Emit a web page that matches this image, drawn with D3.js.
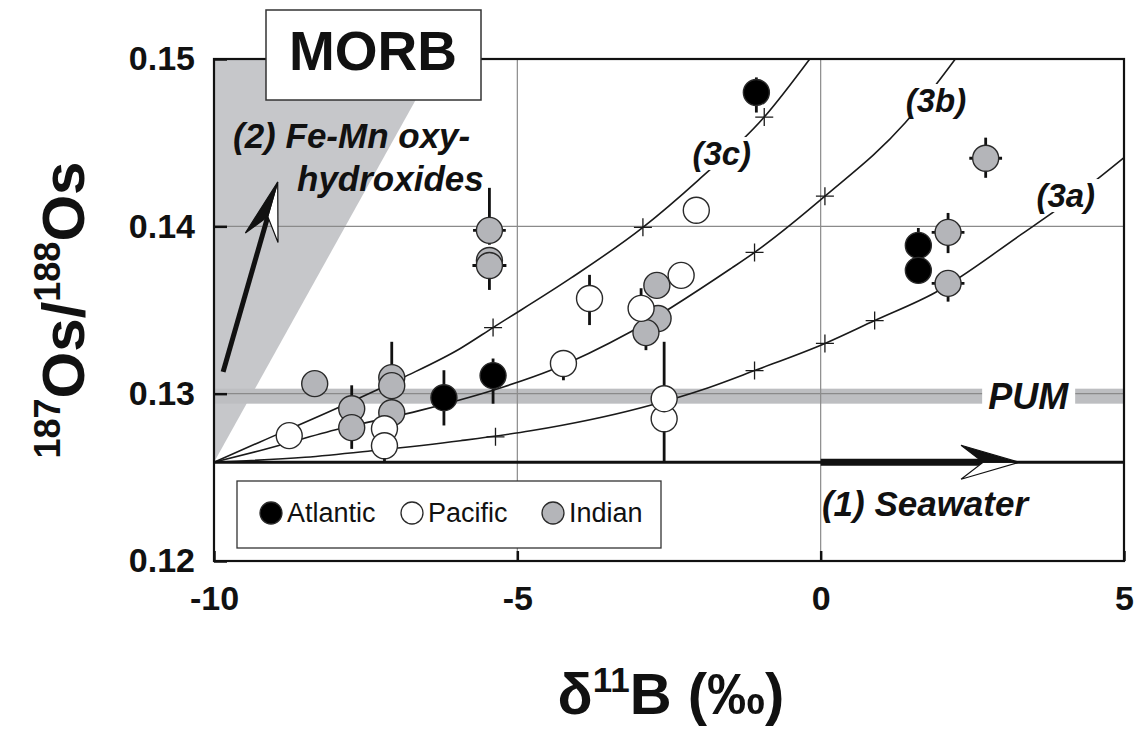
<!DOCTYPE html>
<html>
<head>
<meta charset="utf-8">
<script src="https://cdn.jsdelivr.net/npm/d3@7"></script>
<style>
  body { margin: 0; background: #fff; }
  svg { display: block; font-family: "Liberation Sans", Arial, sans-serif; }
</style>
</head>
<body>
<div id="chart"></div>
<script>
// --- values ---
// points: delta11B, 187Os/188Os, vertical error range (lo/hi), horizontal half error (xe)
const atlantic = [
  { x: -1.06, y: 0.1480, lo: 0.1468, hi: 0.1489 },
  { x: 1.61, y: 0.13886, lo: 0.1378, hi: 0.1399 },
  { x: 1.61, y: 0.13737 },
  { x: -5.40, y: 0.13108, lo: 0.1294, hi: 0.1321 },
  { x: -6.21, y: 0.12976, lo: 0.1281, hi: 0.1314 }
]
const pacific = [
  { x: -2.05, y: 0.14096 },
  { x: -3.81, y: 0.13569, lo: 0.1341, hi: 0.1371 },
  { x: -2.30, y: 0.13707 },
  { x: -2.96, y: 0.1351, lo: 0.1340, hi: 0.1363 },
  { x: -4.24, y: 0.1318, lo: 0.1308, hi: 0.1326 },
  { x: -2.58, y: 0.1285, lo: 0.1259, hi: 0.1331 },
  { x: -2.58, y: 0.1297 },
  { x: -8.76, y: 0.12749 },
  { x: -7.19, y: 0.1279 },
  { x: -7.19, y: 0.12689, lo: 0.1259, hi: 0.1280 }
]
const indian = [
  { x: 2.72, y: 0.14407, lo: 0.1429, hi: 0.1453, xe: 0.27 },
  { x: 2.10, y: 0.13964, lo: 0.1384, hi: 0.1408, xe: 0.27 },
  { x: 2.10, y: 0.13659, lo: 0.1355, hi: 0.1370, xe: 0.27 },
  { x: -5.46, y: 0.13976, lo: 0.1389, hi: 0.1423, xe: 0.27 },
  { x: -5.46, y: 0.13796 },
  { x: -5.46, y: 0.13766, lo: 0.1362, hi: 0.1380, xe: 0.28 },
  { x: -2.70, y: 0.13647 },
  { x: -2.68, y: 0.13449 },
  { x: -2.88, y: 0.13365, lo: 0.1326, hi: 0.1345 },
  { x: -8.34, y: 0.1306 },
  { x: -7.73, y: 0.1291, lo: 0.1285, hi: 0.1305 },
  { x: -7.73, y: 0.12797, lo: 0.1267, hi: 0.1285 },
  { x: -7.07, y: 0.13096, lo: 0.1295, hi: 0.1331 },
  { x: -7.07, y: 0.13048 },
  { x: -7.07, y: 0.12886 }
]

// mixing curves (points along each line) and their + marks
const curve3a = [[-10,0.1259],[-8.5,0.1262],[-7.4,0.12659],[-5.94,0.12719],[-4.78,0.12778],[-2.96,0.12916],[-1.85,0.13036],[-1.09,0.13138],[0.07,0.133],[0.89,0.13437],[1.89,0.13605],[3.3,0.1395],[4.2,0.1418],[5,0.1441]]
const curve3b = [[-10,0.1259],[-9.25,0.12659],[-7.93,0.1279],[-6.6,0.1290],[-5.23,0.1304],[-4.45,0.1314],[-3.13,0.1337],[-1.47,0.1375],[-1.09,0.13844],[0.07,0.1418],[1.39,0.14617],[2.22,0.15]]
const curve3c = [[-10,0.1259],[-9.25,0.1271],[-7.93,0.1292],[-6.89,0.13095],[-5.94,0.1327],[-5.4,0.13395],[-4.12,0.1369],[-2.93,0.13994],[-2.02,0.14275],[-0.93,0.14653],[-0.18,0.15]]
const marks3a = [[-5.36,0.12742],[-1.09,0.13138],[0.07,0.133],[0.89,0.13437]]
const marks3b = [[-1.09,0.13844],[0.07,0.1418]]
const marks3c = [[-5.4,0.13395],[-2.93,0.13994],[-0.93,0.14653]]

const seawaterOs = 0.1259
const pumOs = 0.12985
const feMnField = [[-10,0.1259],[-10,0.15],[-6.3,0.15]]

const xTicks = [-10, -5, 0, 5]
const yTicks = [0.12, 0.13, 0.14, 0.15]
const legendItems = ["Atlantic", "Pacific", "Indian"]
const fills = { Atlantic: "#000", Pacific: "#fff", Indian: "#b4b5b9" }

// --- layout ---
const W = 1146, H = 733
let x = d3.scaleLinear().domain([-10, 5]).range([214, 1124])
let y = d3.scaleLinear().domain([0.12, 0.15]).range([561, 59])
const ink = "#111"

let svg = d3.select("#chart").append("svg")
  .attr("width", W).attr("height", H)

// Fe-Mn field wedge
svg.append("path")
  .attr("d", d3.line().x(d => x(d[0])).y(d => y(d[1]))(feMnField) + "Z")
  .attr("fill", "#c6c7ca")

// PUM band
svg.append("rect")
  .attr("x", x(-10)).attr("width", x(5) - x(-10))
  .attr("y", y(pumOs) - 7.5).attr("height", 15)
  .attr("fill", "#bdbec1")

// grid lines
svg.append("g").selectAll("line").data([-5, 0]).join("line")
  .attr("x1", d => x(d)).attr("x2", d => x(d))
  .attr("y1", y(0.15)).attr("y2", y(0.12))
  .attr("stroke", "#8a8a8a").attr("stroke-width", 1.2)
svg.append("g").selectAll("line").data([0.13, 0.14]).join("line")
  .attr("x1", x(-10)).attr("x2", x(5))
  .attr("y1", d => y(d)).attr("y2", d => y(d))
  .attr("stroke", "#8a8a8a").attr("stroke-width", 1.2)

// mixing curves
let mixLine = d3.line().x(d => x(d[0])).y(d => y(d[1])).curve(d3.curveMonotoneX)
svg.append("g").selectAll("path").data([curve3a, curve3b, curve3c]).join("path")
  .attr("d", mixLine)
  .attr("fill", "none").attr("stroke", "#1a1a1a").attr("stroke-width", 1.6)
svg.append("g").selectAll("path").data([...marks3a, ...marks3b, ...marks3c]).join("path")
  .attr("transform", d => `translate(${x(d[0])},${y(d[1])})`)
  .attr("d", "M-9,0H9M0,-9V9")
  .attr("stroke", "#1a1a1a").attr("stroke-width", 1.3)

// seawater baseline
svg.append("line")
  .attr("x1", x(-10)).attr("x2", x(5))
  .attr("y1", y(seawaterOs)).attr("y2", y(seawaterOs))
  .attr("stroke", ink).attr("stroke-width", 3)

// half-filled arrows
const drawArrow = (x1, y1, x2, y2, shaftW) => {
  let dx = x2 - x1, dy = y2 - y1, len = Math.hypot(dx, dy)
  let ux = dx / len, uy = dy / len
  let lx = uy, ly = -ux            // left side normal
  let L = 58, Wd = 17, notch = 36
  let nx = x2 - ux * notch, ny = y2 - uy * notch
  let bx = x2 - ux * L, by = y2 - uy * L
  let g = svg.append("g")
  g.append("line")
    .attr("x1", x1).attr("y1", y1).attr("x2", nx).attr("y2", ny)
    .attr("stroke", ink).attr("stroke-width", shaftW)
  g.append("path")
    .attr("d", `M${x2},${y2}L${bx - lx * Wd},${by - ly * Wd}L${nx},${ny}Z`)
    .attr("fill", "#fff").attr("stroke", ink).attr("stroke-width", 1.2)
  g.append("path")
    .attr("d", `M${x2},${y2}L${bx + lx * Wd},${by + ly * Wd}L${nx},${ny}Z`)
    .attr("fill", ink).attr("stroke", ink).attr("stroke-width", 1.2)
}
drawArrow(x(0), y(seawaterOs), x(3.27), y(seawaterOs), 7)
drawArrow(x(-9.85), y(0.1313), x(-8.95), y(0.14265), 5)

// error bars
const all = [
  ...indian.map(d => ({ ...d, ocean: "Indian" })),
  ...pacific.map(d => ({ ...d, ocean: "Pacific" })),
  ...atlantic.map(d => ({ ...d, ocean: "Atlantic" }))
]
svg.append("g").selectAll("line").data(all.filter(d => d.lo)).join("line")
  .attr("x1", d => x(d.x)).attr("x2", d => x(d.x))
  .attr("y1", d => y(d.lo)).attr("y2", d => y(d.hi))
  .attr("stroke", ink).attr("stroke-width", 2.8)
svg.append("g").selectAll("line").data(all.filter(d => d.xe)).join("line")
  .attr("x1", d => x(d.x - d.xe)).attr("x2", d => x(d.x + d.xe))
  .attr("y1", d => y(d.y)).attr("y2", d => y(d.y))
  .attr("stroke", ink).attr("stroke-width", 2.8)

// samples
svg.append("g").selectAll("circle").data(all).join("circle")
  .attr("cx", d => x(d.x)).attr("cy", d => y(d.y)).attr("r", 13)
  .attr("fill", d => fills[d.ocean])
  .attr("stroke", "#2a2a2a").attr("stroke-width", 1.4)

// frame
svg.append("rect")
  .attr("x", x(-10)).attr("y", y(0.15))
  .attr("width", x(5) - x(-10)).attr("height", y(0.12) - y(0.15))
  .attr("fill", "none").attr("stroke", ink).attr("stroke-width", 2.2)

// axes
let yAxis = svg.append("g")
  .attr("transform", `translate(${x(-10)},0)`)
  .call(d3.axisLeft(y).tickValues(yTicks).tickSize(-13).tickPadding(19).tickFormat(d3.format(".2f")))
let xAxis = svg.append("g")
  .attr("transform", `translate(0,${y(0.12)})`)
  .call(d3.axisBottom(x).tickValues(xTicks).tickSize(-10).tickPadding(25).tickFormat(d => String(d)))
for (let ax of [xAxis, yAxis]) {
  ax.select(".domain").remove()
  ax.selectAll(".tick line").attr("stroke", ink).attr("stroke-width", 2.5)
  ax.selectAll("text")
    .attr("fill", ink)
    .style("font-size", "34px").style("font-weight", "bold")
    .style("font-family", '"Liberation Sans", Arial, sans-serif')
}

// axis titles
let xt = svg.append("text")
  .attr("x", 671).attr("y", 714).attr("text-anchor", "middle")
  .attr("fill", ink).style("font-size", "58px").style("font-weight", "bold")
xt.append("tspan").text("δ")
xt.append("tspan").text("11").style("font-size", "35px").attr("dy", -22)
xt.append("tspan").text("B (‰)").attr("dy", 22)

let yt = svg.append("text")
  .attr("transform", "translate(84,310) rotate(-90)").attr("text-anchor", "middle")
  .attr("fill", ink).style("font-size", "60px").style("font-weight", "bold")
yt.append("tspan").text("187").style("font-size", "36px").attr("dy", -24)
yt.append("tspan").text("Os/").attr("dy", 24)
yt.append("tspan").text("188").style("font-size", "36px").attr("dy", -24)
yt.append("tspan").text("Os").attr("dy", 24)

// curve labels with white backing (gaps in the lines)
const italicLabel = (tx, ty, txt, size, pad) => {
  let t = svg.append("text")
    .attr("x", tx).attr("y", ty).attr("text-anchor", "middle")
    .attr("fill", ink).style("font-size", size + "px")
    .style("font-weight", "bold").style("font-style", "italic")
    .text(txt)
  let b = t.node().getBBox()
  svg.insert("rect", () => t.node())
    .attr("x", b.x - pad).attr("y", b.y + 2).attr("width", b.width + 2 * pad).attr("height", b.height - 4)
    .attr("fill", "#fff")
  return t
}
italicLabel(x(-1.63), y(0.14438) + 12, "(3c)", 33, 4)
italicLabel(x(1.90), y(0.14755) + 12, "(3b)", 33, 4)
italicLabel(x(4.04), y(0.14187) + 12, "(3a)", 33, 4)
italicLabel(x(3.42), y(pumOs) + 13, "PUM", 36, 6)

svg.append("text")
  .attr("x", x(0.02)).attr("y", 516)
  .attr("fill", ink).style("font-size", "35px")
  .style("font-weight", "bold").style("font-style", "italic")
  .text("(1) Seawater")
let fm = svg.append("text")
  .attr("fill", ink).style("font-size", "35px")
  .style("font-weight", "bold").style("font-style", "italic")
fm.append("tspan").attr("x", 233).attr("y", 148).text("(2) Fe-Mn oxy-")
fm.append("tspan").attr("x", 297).attr("y", 191).text("hydroxides")

// legend
let lg = svg.append("g")
lg.append("rect")
  .attr("x", 237).attr("y", 481).attr("width", 424).attr("height", 67)
  .attr("fill", "#fff").attr("stroke", "#333").attr("stroke-width", 1.3)
let legendX = d3.scalePoint().domain(legendItems).range([271, 553])
lg.selectAll("circle").data(legendItems).join("circle")
  .attr("cx", d => legendX(d)).attr("cy", 513).attr("r", 11)
  .attr("fill", d => fills[d]).attr("stroke", "#2a2a2a").attr("stroke-width", 1.3)
lg.selectAll("text").data(legendItems).join("text")
  .attr("x", d => legendX(d) + 16).attr("y", 522)
  .attr("fill", ink).style("font-size", "27px")
  .text(d => d)

// MORB tag
svg.append("rect")
  .attr("x", 266).attr("y", 10).attr("width", 215).attr("height", 90)
  .attr("fill", "#fff").attr("stroke", "#333").attr("stroke-width", 1.5)
svg.append("text")
  .attr("x", 373).attr("y", 70).attr("text-anchor", "middle")
  .attr("fill", ink).style("font-size", "55px").style("font-weight", "bold")
  .text("MORB")
</script>
</body>
</html>
